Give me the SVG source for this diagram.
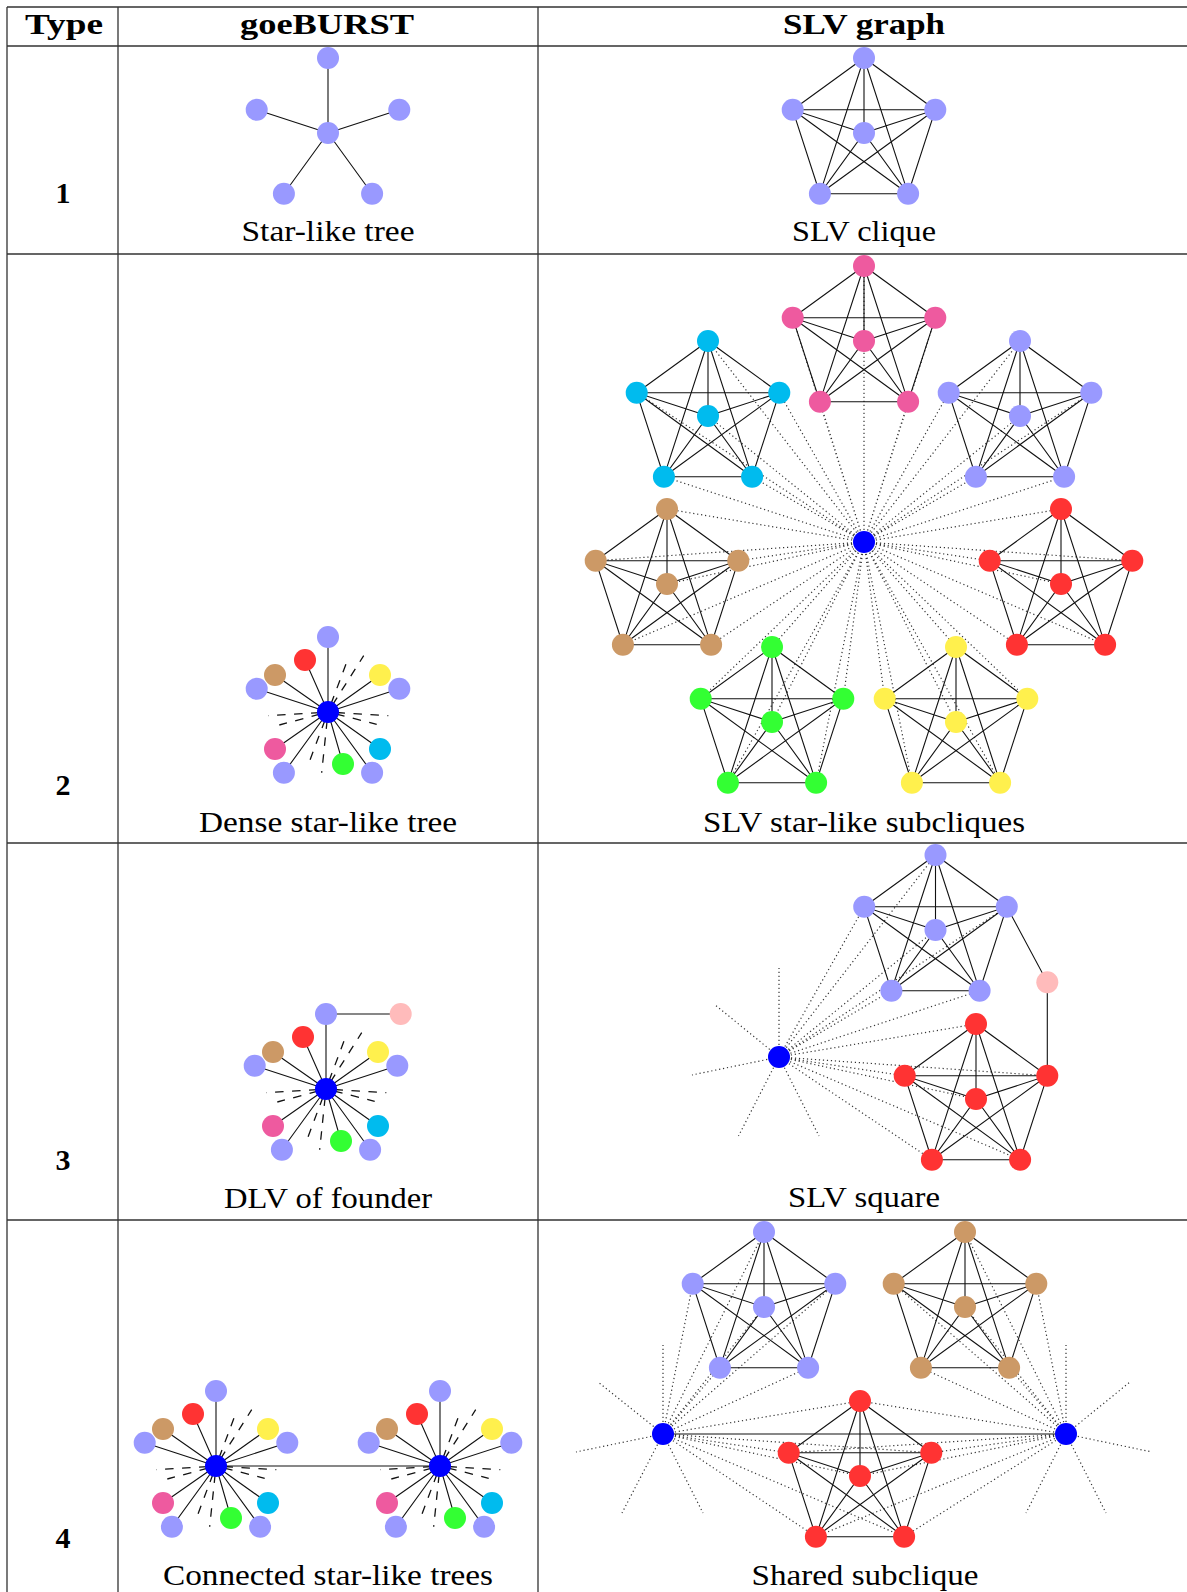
<svg xmlns="http://www.w3.org/2000/svg" width="1187" height="1592" viewBox="0 0 1187 1592">
<style>
.grid{stroke:#333;stroke-width:1.3;fill:none}
.e{stroke:#111;stroke-width:1.1;fill:none}
.d{stroke:#333;stroke-width:1.2;stroke-dasharray:1.2 2.8;fill:none}
.ds{stroke:#111;stroke-width:1.3;stroke-dasharray:8.5 8.5;stroke-dashoffset:8.5;fill:none}
.h{font-family:"Liberation Serif",serif;font-size:30px;font-weight:bold;text-anchor:middle;fill:#000}
.c{font-family:"Liberation Serif",serif;font-size:30px;text-anchor:middle;fill:#000}
.lav{fill:#9999FF}.blu{fill:#0000FF}.red{fill:#FF3333}.brn{fill:#CC9966}.yel{fill:#FFF04D}.grn{fill:#33FF33}.cya{fill:#00BBEE}.pnk{fill:#EE5A9F}.lpk{fill:#FFBBBB}
</style>
<g id="table">
<path class="grid" d="M7,7H1187M7,46H1187M7,254H1187M7,843H1187M7,1220H1187M7,7V1592M118,7V1592M538,7V1592"/>
</g>
<g id="texts">
<text class="h" x="64" y="34" textLength="78" lengthAdjust="spacingAndGlyphs">Type</text>
<text class="h" x="327" y="34" textLength="174" lengthAdjust="spacingAndGlyphs">goeBURST</text>
<text class="h" x="864" y="34" textLength="162" lengthAdjust="spacingAndGlyphs">SLV graph</text>
<text class="h" x="63" y="203">1</text>
<text class="h" x="63" y="795">2</text>
<text class="h" x="63" y="1170">3</text>
<text class="h" x="63" y="1548">4</text>
<text class="c" x="328" y="241" textLength="173" lengthAdjust="spacingAndGlyphs">Star-like tree</text>
<text class="c" x="864" y="241" textLength="144" lengthAdjust="spacingAndGlyphs">SLV clique</text>
<text class="c" x="328" y="832" textLength="258" lengthAdjust="spacingAndGlyphs">Dense star-like tree</text>
<text class="c" x="864" y="832" textLength="322" lengthAdjust="spacingAndGlyphs">SLV star-like subcliques</text>
<text class="c" x="328" y="1208" textLength="208" lengthAdjust="spacingAndGlyphs">DLV of founder</text>
<text class="c" x="864" y="1207" textLength="152" lengthAdjust="spacingAndGlyphs">SLV square</text>
<text class="c" x="328" y="1585" textLength="330" lengthAdjust="spacingAndGlyphs">Connected star-like trees</text>
<text class="c" x="865" y="1585" textLength="227" lengthAdjust="spacingAndGlyphs">Shared subclique</text>
</g>
<g id="connectors">
<!-- row 1 -->
<path class="e" d="M328,133 l0,-75 m0,75 l-71.3,-23.2 m71.3,23.2 l71.3,-23.2 m-71.3,23.2 l-44.1,60.7 m44.1,-60.7 l44.1,60.7"/>
<path class="e" d="M864,58 l-71.3,51.8 l142.6,0 l-71.3,-51.8 l-44.1,135.7 l88.2,0 l-44.1,-135.7 l0,75 l-71.3,-23.2 l27.2,83.9 l44.1,-60.7 l71.3,-23.2 l-27.2,83.9 l-44.1,-60.7 m-71.3,-23.2 l115.4,83.9 m27.2,-83.9 l-115.4,83.9"/>
<!-- row 2 goeBURST -->
<path class="e" d="M328,712 l0,-75 m0,75 l-71.3,-23.2 m71.3,23.2 l71.3,-23.2 m-71.3,23.2 l-44.1,60.7 m44.1,-60.7 l44.1,60.7 m-44.1,-60.7 l-23,-52 m23,52 l-53,-37 m53,37 l52,-37 m-52,37 l-53,37 m53,-37 l52,37 m-52,-37 l15,52"/>
<path class="ds" d="M328,712 l35.7,-56.3 M328,712 l18,-48 M328,712 l-59.7,3.7 M328,712 l-48.7,13 M328,712 l60.3,3.7 M328,712 l48.7,12.3 M328,712 l-6.3,60.7 M328,712 l-18,48"/>
<!-- row 2 SLV dotted -->
<path class="d" d="M864,542L864,266M864,542L792.7,317.8M864,542L935.3,317.8M864,542L819.9,401.7M864,542L908.1,401.7M864,542L864,341
M864,542L708,341M864,542L636.7,392.8M864,542L779.3,392.8M864,542L663.9,476.7M864,542L752.1,476.7M864,542L708,416
M864,542L1020,341M864,542L948.7,392.8M864,542L1091.3,392.8M864,542L975.9,476.7M864,542L1064.1,476.7M864,542L1020,416
M864,542L667,509M864,542L595.7,560.8M864,542L738.3,560.8M864,542L622.9,644.7M864,542L711.1,644.7M864,542L667,584
M864,542L1061,509M864,542L989.7,560.8M864,542L1132.3,560.8M864,542L1016.9,644.7M864,542L1105.1,644.7M864,542L1061,584
M864,542L772,647M864,542L700.7,698.8M864,542L843.3,698.8M864,542L727.9,782.7M864,542L816.1,782.7M864,542L772,722
M864,542L956,647M864,542L884.7,698.8M864,542L1027.3,698.8M864,542L911.9,782.7M864,542L1000.1,782.7M864,542L956,722"/>
<path class="e" d="M864,266 l-71.3,51.8 l142.6,0 l-71.3,-51.8 l-44.1,135.7 l88.2,0 l-44.1,-135.7 l0,75 l-71.3,-23.2 l27.2,83.9 l44.1,-60.7 l71.3,-23.2 l-27.2,83.9 l-44.1,-60.7 m-71.3,-23.2 l115.4,83.9 m27.2,-83.9 l-115.4,83.9"/>
<path class="e" d="M708,341 l-71.3,51.8 l142.6,0 l-71.3,-51.8 l-44.1,135.7 l88.2,0 l-44.1,-135.7 l0,75 l-71.3,-23.2 l27.2,83.9 l44.1,-60.7 l71.3,-23.2 l-27.2,83.9 l-44.1,-60.7 m-71.3,-23.2 l115.4,83.9 m27.2,-83.9 l-115.4,83.9"/>
<path class="e" d="M1020,341 l-71.3,51.8 l142.6,0 l-71.3,-51.8 l-44.1,135.7 l88.2,0 l-44.1,-135.7 l0,75 l-71.3,-23.2 l27.2,83.9 l44.1,-60.7 l71.3,-23.2 l-27.2,83.9 l-44.1,-60.7 m-71.3,-23.2 l115.4,83.9 m27.2,-83.9 l-115.4,83.9"/>
<path class="e" d="M667,509 l-71.3,51.8 l142.6,0 l-71.3,-51.8 l-44.1,135.7 l88.2,0 l-44.1,-135.7 l0,75 l-71.3,-23.2 l27.2,83.9 l44.1,-60.7 l71.3,-23.2 l-27.2,83.9 l-44.1,-60.7 m-71.3,-23.2 l115.4,83.9 m27.2,-83.9 l-115.4,83.9"/>
<path class="e" d="M1061,509 l-71.3,51.8 l142.6,0 l-71.3,-51.8 l-44.1,135.7 l88.2,0 l-44.1,-135.7 l0,75 l-71.3,-23.2 l27.2,83.9 l44.1,-60.7 l71.3,-23.2 l-27.2,83.9 l-44.1,-60.7 m-71.3,-23.2 l115.4,83.9 m27.2,-83.9 l-115.4,83.9"/>
<path class="e" d="M772,647 l-71.3,51.8 l142.6,0 l-71.3,-51.8 l-44.1,135.7 l88.2,0 l-44.1,-135.7 l0,75 l-71.3,-23.2 l27.2,83.9 l44.1,-60.7 l71.3,-23.2 l-27.2,83.9 l-44.1,-60.7 m-71.3,-23.2 l115.4,83.9 m27.2,-83.9 l-115.4,83.9"/>
<path class="e" d="M956,647 l-71.3,51.8 l142.6,0 l-71.3,-51.8 l-44.1,135.7 l88.2,0 l-44.1,-135.7 l0,75 l-71.3,-23.2 l27.2,83.9 l44.1,-60.7 l71.3,-23.2 l-27.2,83.9 l-44.1,-60.7 m-71.3,-23.2 l115.4,83.9 m27.2,-83.9 l-115.4,83.9"/>
<!-- row 3 goeBURST -->
<path class="e" d="M326,1089 l0,-75 m0,75 l-71.3,-23.2 m71.3,23.2 l71.3,-23.2 m-71.3,23.2 l-44.1,60.7 m44.1,-60.7 l44.1,60.7 m-44.1,-60.7 l-23,-52 m23,52 l-53,-37 m53,37 l52,-37 m-52,37 l-53,37 m53,-37 l52,37 m-52,-37 l15,52"/>
<path class="ds" d="M326,1089 l35.7,-56.3 M326,1089 l18,-48 M326,1089 l-59.7,3.7 M326,1089 l-48.7,13 M326,1089 l60.3,3.7 M326,1089 l48.7,12.3 M326,1089 l-6.3,60.7 M326,1089 l-18,48"/>
<path class="e" d="M326,1014H400.7"/>
<!-- row 3 SLV -->
<path class="d" d="M779,1057L935.5,855M779,1057L864.2,906.8M779,1057L1006.8,906.8M779,1057L891.4,990.7M779,1057L979.6,990.7M779,1057L935.5,930
M779,1057L976,1024M779,1057L904.7,1075.8M779,1057L1047.3,1075.8M779,1057L931.9,1159.7M779,1057L1020.1,1159.7M779,1057L976,1099
M779,1057L779,968M779,1057L714,1004M779,1057L692,1075M779,1057L738.5,1136M779,1057L819,1136"/>
<path class="e" d="M935.5,855 l-71.3,51.8 l142.6,0 l-71.3,-51.8 l-44.1,135.7 l88.2,0 l-44.1,-135.7 l0,75 l-71.3,-23.2 l27.2,83.9 l44.1,-60.7 l71.3,-23.2 l-27.2,83.9 l-44.1,-60.7 m-71.3,-23.2 l115.4,83.9 m27.2,-83.9 l-115.4,83.9"/>
<path class="e" d="M976,1024 l-71.3,51.8 l142.6,0 l-71.3,-51.8 l-44.1,135.7 l88.2,0 l-44.1,-135.7 l0,75 l-71.3,-23.2 l27.2,83.9 l44.1,-60.7 l71.3,-23.2 l-27.2,83.9 l-44.1,-60.7 m-71.3,-23.2 l115.4,83.9 m27.2,-83.9 l-115.4,83.9"/>
<path class="e" d="M1006.8,906.8L1047.3,982.3L1047.3,1075.8"/>
<!-- row 4 goeBURST -->
<path class="e" d="M216,1466H440"/>
<path class="e" d="M216,1466 l0,-75 m0,75 l-71.3,-23.2 m71.3,23.2 l71.3,-23.2 m-71.3,23.2 l-44.1,60.7 m44.1,-60.7 l44.1,60.7 m-44.1,-60.7 l-23,-52 m23,52 l-53,-37 m53,37 l52,-37 m-52,37 l-53,37 m53,-37 l52,37 m-52,-37 l15,52"/>
<path class="ds" d="M216,1466 l35.7,-56.3 M216,1466 l18,-48 M216,1466 l-59.7,3.7 M216,1466 l-48.7,13 M216,1466 l60.3,3.7 M216,1466 l48.7,12.3 M216,1466 l-6.3,60.7 M216,1466 l-18,48"/>
<path class="e" d="M440,1466 l0,-75 m0,75 l-71.3,-23.2 m71.3,23.2 l71.3,-23.2 m-71.3,23.2 l-44.1,60.7 m44.1,-60.7 l44.1,60.7 m-44.1,-60.7 l-23,-52 m23,52 l-53,-37 m53,37 l52,-37 m-52,37 l-53,37 m53,-37 l52,37 m-52,-37 l15,52"/>
<path class="ds" d="M440,1466 l35.7,-56.3 M440,1466 l18,-48 M440,1466 l-59.7,3.7 M440,1466 l-48.7,13 M440,1466 l60.3,3.7 M440,1466 l48.7,12.3 M440,1466 l-6.3,60.7 M440,1466 l-18,48"/>
<!-- row 4 SLV -->
<path class="d" d="M663,1434L764,1232M663,1434L692.7,1283.8M663,1434L835.3,1283.8M663,1434L719.9,1367.7M663,1434L808.1,1367.7M663,1434L764,1307
M663,1434L860,1401M663,1434L788.7,1452.8M663,1434L931.3,1452.8M663,1434L815.9,1536.7M663,1434L904.1,1536.7M663,1434L860,1476
M663,1434L663,1345M663,1434L598,1382M663,1434L576,1452M663,1434L622,1513M663,1434L703,1513
M1066,1434L965,1232M1066,1434L893.7,1283.8M1066,1434L1036.3,1283.8M1066,1434L920.9,1367.7M1066,1434L1009.1,1367.7M1066,1434L965,1307
M1066,1434L860,1401M1066,1434L788.7,1452.8M1066,1434L931.3,1452.8M1066,1434L815.9,1536.7M1066,1434L904.1,1536.7M1066,1434L860,1476
M1066,1434L1066,1345M1066,1434L1130,1382M1066,1434L1152,1452M1066,1434L1106,1513M1066,1434L1026,1513"/>
<path class="e" d="M663,1434H1066"/>
<path class="e" d="M764,1232 l-71.3,51.8 l142.6,0 l-71.3,-51.8 l-44.1,135.7 l88.2,0 l-44.1,-135.7 l0,75 l-71.3,-23.2 l27.2,83.9 l44.1,-60.7 l71.3,-23.2 l-27.2,83.9 l-44.1,-60.7 m-71.3,-23.2 l115.4,83.9 m27.2,-83.9 l-115.4,83.9"/>
<path class="e" d="M965,1232 l-71.3,51.8 l142.6,0 l-71.3,-51.8 l-44.1,135.7 l88.2,0 l-44.1,-135.7 l0,75 l-71.3,-23.2 l27.2,83.9 l44.1,-60.7 l71.3,-23.2 l-27.2,83.9 l-44.1,-60.7 m-71.3,-23.2 l115.4,83.9 m27.2,-83.9 l-115.4,83.9"/>
<path class="e" d="M860,1401 l-71.3,51.8 l142.6,0 l-71.3,-51.8 l-44.1,135.7 l88.2,0 l-44.1,-135.7 l0,75 l-71.3,-23.2 l27.2,83.9 l44.1,-60.7 l71.3,-23.2 l-27.2,83.9 l-44.1,-60.7 m-71.3,-23.2 l115.4,83.9 m27.2,-83.9 l-115.4,83.9"/>
</g>
<g id="nodes">
<!-- row 1 goeBURST -->
<g id="r1g-c" class="lav"><circle cx="328" cy="133" r="11"/></g>
<g id="r1g-t" class="lav"><circle cx="328" cy="58" r="11"/></g>
<g id="r1g-l" class="lav"><circle cx="256.7" cy="109.8" r="11"/></g>
<g id="r1g-r" class="lav"><circle cx="399.3" cy="109.8" r="11"/></g>
<g id="r1g-bl" class="lav"><circle cx="283.9" cy="193.7" r="11"/></g>
<g id="r1g-br" class="lav"><circle cx="372.1" cy="193.7" r="11"/></g>
<!-- row 1 SLV -->
<g id="r1s-t" class="lav"><circle cx="864" cy="58" r="11"/></g>
<g id="r1s-l" class="lav"><circle cx="792.7" cy="109.8" r="11"/></g>
<g id="r1s-r" class="lav"><circle cx="935.3" cy="109.8" r="11"/></g>
<g id="r1s-bl" class="lav"><circle cx="819.9" cy="193.7" r="11"/></g>
<g id="r1s-br" class="lav"><circle cx="908.1" cy="193.7" r="11"/></g>
<g id="r1s-c" class="lav"><circle cx="864" cy="133" r="11"/></g>
<!-- row 2 goeBURST -->
<g id="r2g-t" class="lav"><circle cx="328" cy="637" r="11"/></g>
<g id="r2g-l" class="lav"><circle cx="256.7" cy="688.8" r="11"/></g>
<g id="r2g-r" class="lav"><circle cx="399.3" cy="688.8" r="11"/></g>
<g id="r2g-bl" class="lav"><circle cx="283.9" cy="772.7" r="11"/></g>
<g id="r2g-br" class="lav"><circle cx="372.1" cy="772.7" r="11"/></g>
<g id="r2g-red" class="red"><circle cx="305" cy="660" r="11"/></g>
<g id="r2g-brn" class="brn"><circle cx="275" cy="675" r="11"/></g>
<g id="r2g-yel" class="yel"><circle cx="380" cy="675" r="11"/></g>
<g id="r2g-pnk" class="pnk"><circle cx="275" cy="749" r="11"/></g>
<g id="r2g-cya" class="cya"><circle cx="380" cy="749" r="11"/></g>
<g id="r2g-grn" class="grn"><circle cx="343" cy="764" r="11"/></g>
<g id="r2g-hub" class="blu"><circle cx="328" cy="712" r="11"/></g>
<!-- row 2 SLV -->
<g id="r2s-hub" class="blu"><circle cx="864" cy="542" r="11"/></g>
<g id="r2s-pnk-t" class="pnk"><circle cx="864" cy="266" r="11"/></g>
<g id="r2s-pnk-l" class="pnk"><circle cx="792.7" cy="317.8" r="11"/></g>
<g id="r2s-pnk-r" class="pnk"><circle cx="935.3" cy="317.8" r="11"/></g>
<g id="r2s-pnk-bl" class="pnk"><circle cx="819.9" cy="401.7" r="11"/></g>
<g id="r2s-pnk-br" class="pnk"><circle cx="908.1" cy="401.7" r="11"/></g>
<g id="r2s-pnk-c" class="pnk"><circle cx="864" cy="341" r="11"/></g>
<g id="r2s-cya-t" class="cya"><circle cx="708" cy="341" r="11"/></g>
<g id="r2s-cya-l" class="cya"><circle cx="636.7" cy="392.8" r="11"/></g>
<g id="r2s-cya-r" class="cya"><circle cx="779.3" cy="392.8" r="11"/></g>
<g id="r2s-cya-bl" class="cya"><circle cx="663.9" cy="476.7" r="11"/></g>
<g id="r2s-cya-br" class="cya"><circle cx="752.1" cy="476.7" r="11"/></g>
<g id="r2s-cya-c" class="cya"><circle cx="708" cy="416" r="11"/></g>
<g id="r2s-lav-t" class="lav"><circle cx="1020" cy="341" r="11"/></g>
<g id="r2s-lav-l" class="lav"><circle cx="948.7" cy="392.8" r="11"/></g>
<g id="r2s-lav-r" class="lav"><circle cx="1091.3" cy="392.8" r="11"/></g>
<g id="r2s-lav-bl" class="lav"><circle cx="975.9" cy="476.7" r="11"/></g>
<g id="r2s-lav-br" class="lav"><circle cx="1064.1" cy="476.7" r="11"/></g>
<g id="r2s-lav-c" class="lav"><circle cx="1020" cy="416" r="11"/></g>
<g id="r2s-brn-t" class="brn"><circle cx="667" cy="509" r="11"/></g>
<g id="r2s-brn-l" class="brn"><circle cx="595.7" cy="560.8" r="11"/></g>
<g id="r2s-brn-r" class="brn"><circle cx="738.3" cy="560.8" r="11"/></g>
<g id="r2s-brn-bl" class="brn"><circle cx="622.9" cy="644.7" r="11"/></g>
<g id="r2s-brn-br" class="brn"><circle cx="711.1" cy="644.7" r="11"/></g>
<g id="r2s-brn-c" class="brn"><circle cx="667" cy="584" r="11"/></g>
<g id="r2s-red-t" class="red"><circle cx="1061" cy="509" r="11"/></g>
<g id="r2s-red-l" class="red"><circle cx="989.7" cy="560.8" r="11"/></g>
<g id="r2s-red-r" class="red"><circle cx="1132.3" cy="560.8" r="11"/></g>
<g id="r2s-red-bl" class="red"><circle cx="1016.9" cy="644.7" r="11"/></g>
<g id="r2s-red-br" class="red"><circle cx="1105.1" cy="644.7" r="11"/></g>
<g id="r2s-red-c" class="red"><circle cx="1061" cy="584" r="11"/></g>
<g id="r2s-grn-t" class="grn"><circle cx="772" cy="647" r="11"/></g>
<g id="r2s-grn-l" class="grn"><circle cx="700.7" cy="698.8" r="11"/></g>
<g id="r2s-grn-r" class="grn"><circle cx="843.3" cy="698.8" r="11"/></g>
<g id="r2s-grn-bl" class="grn"><circle cx="727.9" cy="782.7" r="11"/></g>
<g id="r2s-grn-br" class="grn"><circle cx="816.1" cy="782.7" r="11"/></g>
<g id="r2s-grn-c" class="grn"><circle cx="772" cy="722" r="11"/></g>
<g id="r2s-yel-t" class="yel"><circle cx="956" cy="647" r="11"/></g>
<g id="r2s-yel-l" class="yel"><circle cx="884.7" cy="698.8" r="11"/></g>
<g id="r2s-yel-r" class="yel"><circle cx="1027.3" cy="698.8" r="11"/></g>
<g id="r2s-yel-bl" class="yel"><circle cx="911.9" cy="782.7" r="11"/></g>
<g id="r2s-yel-br" class="yel"><circle cx="1000.1" cy="782.7" r="11"/></g>
<g id="r2s-yel-c" class="yel"><circle cx="956" cy="722" r="11"/></g>
<!-- row 3 goeBURST -->
<g id="r3g-t" class="lav"><circle cx="326" cy="1014" r="11"/></g>
<g id="r3g-l" class="lav"><circle cx="254.7" cy="1065.8" r="11"/></g>
<g id="r3g-r" class="lav"><circle cx="397.3" cy="1065.8" r="11"/></g>
<g id="r3g-bl" class="lav"><circle cx="281.9" cy="1149.7" r="11"/></g>
<g id="r3g-br" class="lav"><circle cx="370.1" cy="1149.7" r="11"/></g>
<g id="r3g-red" class="red"><circle cx="303" cy="1037" r="11"/></g>
<g id="r3g-brn" class="brn"><circle cx="273" cy="1052" r="11"/></g>
<g id="r3g-yel" class="yel"><circle cx="378" cy="1052" r="11"/></g>
<g id="r3g-pnk" class="pnk"><circle cx="273" cy="1126" r="11"/></g>
<g id="r3g-cya" class="cya"><circle cx="378" cy="1126" r="11"/></g>
<g id="r3g-grn" class="grn"><circle cx="341" cy="1141" r="11"/></g>
<g id="r3g-hub" class="blu"><circle cx="326" cy="1089" r="11"/></g>
<g id="r3g-lpk" class="lpk"><circle cx="400.7" cy="1014" r="11"/></g>
<!-- row 3 SLV -->
<g id="r3s-hub" class="blu"><circle cx="779" cy="1057" r="11"/></g>
<g id="r3s-lav-t" class="lav"><circle cx="935.5" cy="855" r="11"/></g>
<g id="r3s-lav-l" class="lav"><circle cx="864.2" cy="906.8" r="11"/></g>
<g id="r3s-lav-r" class="lav"><circle cx="1006.8" cy="906.8" r="11"/></g>
<g id="r3s-lav-bl" class="lav"><circle cx="891.4" cy="990.7" r="11"/></g>
<g id="r3s-lav-br" class="lav"><circle cx="979.6" cy="990.7" r="11"/></g>
<g id="r3s-lav-c" class="lav"><circle cx="935.5" cy="930" r="11"/></g>
<g id="r3s-red-t" class="red"><circle cx="976" cy="1024" r="11"/></g>
<g id="r3s-red-l" class="red"><circle cx="904.7" cy="1075.8" r="11"/></g>
<g id="r3s-red-r" class="red"><circle cx="1047.3" cy="1075.8" r="11"/></g>
<g id="r3s-red-bl" class="red"><circle cx="931.9" cy="1159.7" r="11"/></g>
<g id="r3s-red-br" class="red"><circle cx="1020.1" cy="1159.7" r="11"/></g>
<g id="r3s-red-c" class="red"><circle cx="976" cy="1099" r="11"/></g>
<g id="r3s-lpk" class="lpk"><circle cx="1047.3" cy="982.3" r="11"/></g>
<!-- row 4 goeBURST left -->
<g id="r4gL-t" class="lav"><circle cx="216" cy="1391" r="11"/></g>
<g id="r4gL-l" class="lav"><circle cx="144.7" cy="1442.8" r="11"/></g>
<g id="r4gL-r" class="lav"><circle cx="287.3" cy="1442.8" r="11"/></g>
<g id="r4gL-bl" class="lav"><circle cx="171.9" cy="1526.7" r="11"/></g>
<g id="r4gL-br" class="lav"><circle cx="260.1" cy="1526.7" r="11"/></g>
<g id="r4gL-red" class="red"><circle cx="193" cy="1414" r="11"/></g>
<g id="r4gL-brn" class="brn"><circle cx="163" cy="1429" r="11"/></g>
<g id="r4gL-yel" class="yel"><circle cx="268" cy="1429" r="11"/></g>
<g id="r4gL-pnk" class="pnk"><circle cx="163" cy="1503" r="11"/></g>
<g id="r4gL-cya" class="cya"><circle cx="268" cy="1503" r="11"/></g>
<g id="r4gL-grn" class="grn"><circle cx="231" cy="1518" r="11"/></g>
<g id="r4gL-hub" class="blu"><circle cx="216" cy="1466" r="11"/></g>
<!-- row 4 goeBURST right -->
<g id="r4gR-t" class="lav"><circle cx="440" cy="1391" r="11"/></g>
<g id="r4gR-l" class="lav"><circle cx="368.7" cy="1442.8" r="11"/></g>
<g id="r4gR-r" class="lav"><circle cx="511.3" cy="1442.8" r="11"/></g>
<g id="r4gR-bl" class="lav"><circle cx="395.9" cy="1526.7" r="11"/></g>
<g id="r4gR-br" class="lav"><circle cx="484.1" cy="1526.7" r="11"/></g>
<g id="r4gR-red" class="red"><circle cx="417" cy="1414" r="11"/></g>
<g id="r4gR-brn" class="brn"><circle cx="387" cy="1429" r="11"/></g>
<g id="r4gR-yel" class="yel"><circle cx="492" cy="1429" r="11"/></g>
<g id="r4gR-pnk" class="pnk"><circle cx="387" cy="1503" r="11"/></g>
<g id="r4gR-cya" class="cya"><circle cx="492" cy="1503" r="11"/></g>
<g id="r4gR-grn" class="grn"><circle cx="455" cy="1518" r="11"/></g>
<g id="r4gR-hub" class="blu"><circle cx="440" cy="1466" r="11"/></g>
<!-- row 4 SLV -->
<g id="r4s-hubL" class="blu"><circle cx="663" cy="1434" r="11"/></g>
<g id="r4s-hubR" class="blu"><circle cx="1066" cy="1434" r="11"/></g>
<g id="r4s-lav-t" class="lav"><circle cx="764" cy="1232" r="11"/></g>
<g id="r4s-lav-l" class="lav"><circle cx="692.7" cy="1283.8" r="11"/></g>
<g id="r4s-lav-r" class="lav"><circle cx="835.3" cy="1283.8" r="11"/></g>
<g id="r4s-lav-bl" class="lav"><circle cx="719.9" cy="1367.7" r="11"/></g>
<g id="r4s-lav-br" class="lav"><circle cx="808.1" cy="1367.7" r="11"/></g>
<g id="r4s-lav-c" class="lav"><circle cx="764" cy="1307" r="11"/></g>
<g id="r4s-brn-t" class="brn"><circle cx="965" cy="1232" r="11"/></g>
<g id="r4s-brn-l" class="brn"><circle cx="893.7" cy="1283.8" r="11"/></g>
<g id="r4s-brn-r" class="brn"><circle cx="1036.3" cy="1283.8" r="11"/></g>
<g id="r4s-brn-bl" class="brn"><circle cx="920.9" cy="1367.7" r="11"/></g>
<g id="r4s-brn-br" class="brn"><circle cx="1009.1" cy="1367.7" r="11"/></g>
<g id="r4s-brn-c" class="brn"><circle cx="965" cy="1307" r="11"/></g>
<g id="r4s-red-t" class="red"><circle cx="860" cy="1401" r="11"/></g>
<g id="r4s-red-l" class="red"><circle cx="788.7" cy="1452.8" r="11"/></g>
<g id="r4s-red-r" class="red"><circle cx="931.3" cy="1452.8" r="11"/></g>
<g id="r4s-red-bl" class="red"><circle cx="815.9" cy="1536.7" r="11"/></g>
<g id="r4s-red-br" class="red"><circle cx="904.1" cy="1536.7" r="11"/></g>
<g id="r4s-red-c" class="red"><circle cx="860" cy="1476" r="11"/></g>
</g>
</svg>
